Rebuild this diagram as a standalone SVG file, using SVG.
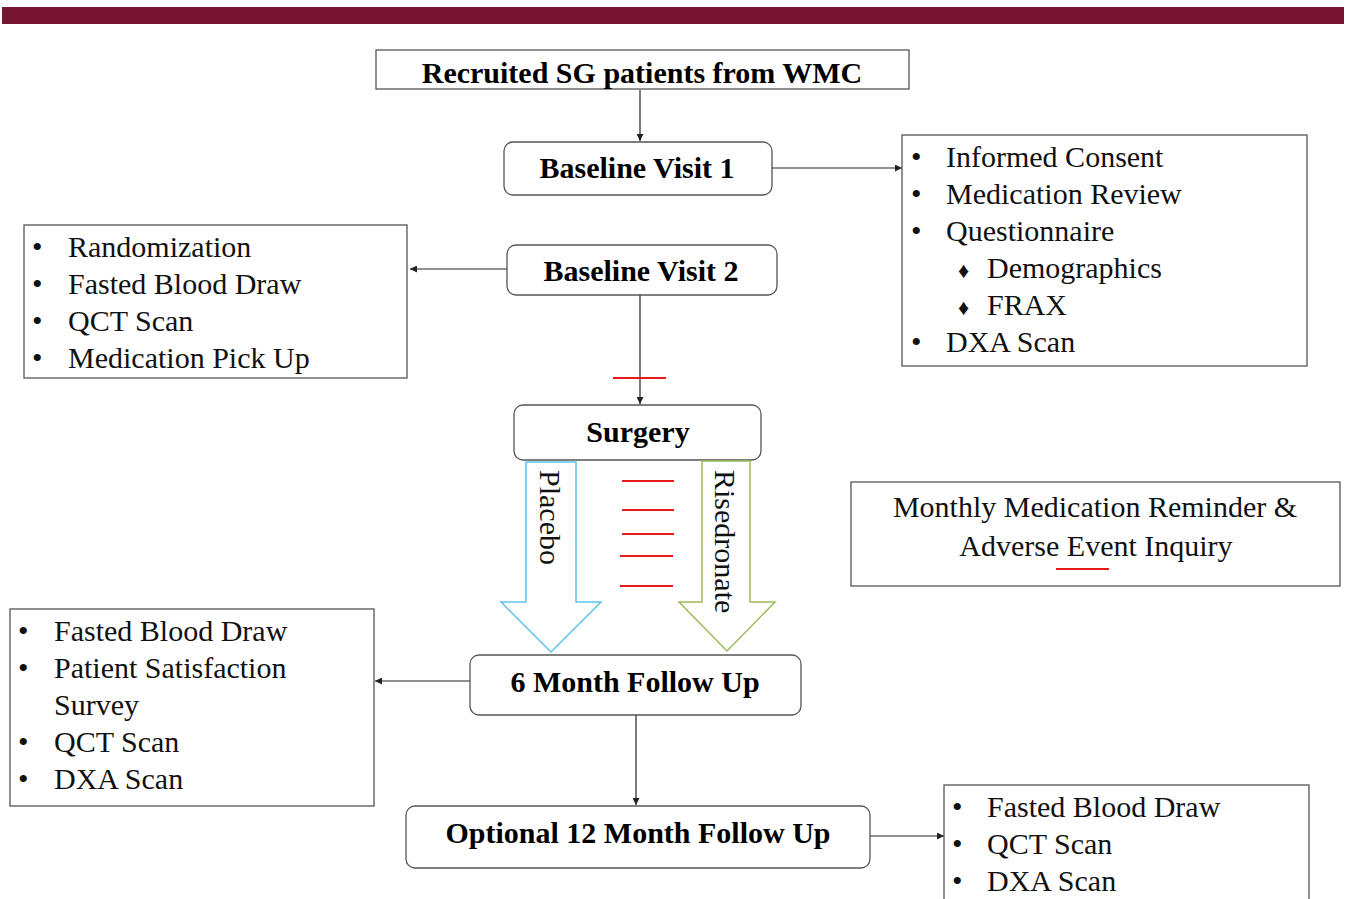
<svg xmlns="http://www.w3.org/2000/svg" width="1346" height="899" viewBox="0 0 1346 899">
<style>
.box{fill:#fff;stroke:#555;stroke-width:1.3}
.nt{font-family:"Liberation Serif","Times New Roman",serif;font-weight:bold;font-size:30px;fill:#000;text-anchor:middle}
.lt{font-family:"Liberation Serif","Times New Roman",serif;font-size:30px;fill:#111}
.con{stroke:#222;stroke-width:1.2;fill:none}
.red{stroke:#e8191b;stroke-width:2;fill:none}
</style>
<defs>
<marker id="ah" viewBox="0 0 10 10" refX="10" refY="5" markerWidth="7" markerHeight="7" markerUnits="userSpaceOnUse" orient="auto">
<path d="M0,0 L10,5 L0,10 z" fill="#222"/>
</marker>
</defs>
<rect x="2" y="7" width="1342" height="17" fill="#771433"/>

<g id="connectors">
<line class="con" x1="640" y1="90" x2="640" y2="141" marker-end="url(#ah)"/>
<line class="con" x1="772" y1="168" x2="902" y2="168" marker-end="url(#ah)"/>
<line class="con" x1="507" y1="269" x2="410" y2="269" marker-end="url(#ah)"/>
<line class="con" x1="640" y1="295" x2="640" y2="404" marker-end="url(#ah)"/>
<line class="con" x1="470" y1="681" x2="375" y2="681" marker-end="url(#ah)"/>
<line class="con" x1="636" y1="715" x2="636" y2="805" marker-end="url(#ah)"/>
<line class="con" x1="870" y1="836" x2="944" y2="836" marker-end="url(#ah)"/>
</g>

<g id="recruited">
<rect class="box" x="376" y="50" width="533" height="39"/>
<text class="nt" x="642" y="83">Recruited SG patients from WMC</text>
</g>

<g id="baseline1">
<rect class="box" x="504" y="142" width="268" height="53" rx="9"/>
<text class="nt" x="637" y="178">Baseline Visit 1</text>
</g>

<g id="bv1-list">
<rect class="box" x="902" y="135" width="405" height="231"/>
<g class="lt">
<text x="911" y="167">•</text><text x="946" y="167">Informed Consent</text>
<text x="911" y="204">•</text><text x="946" y="204">Medication Review</text>
<text x="911" y="241">•</text><text x="946" y="241">Questionnaire</text>
<text x="958" y="278" font-size="22">♦</text><text x="987" y="278">Demographics</text>
<text x="958" y="315" font-size="22">♦</text><text x="987" y="315">FRAX</text>
<text x="911" y="352">•</text><text x="946" y="352">DXA Scan</text>
</g>
</g>

<g id="baseline2">
<rect class="box" x="507" y="245" width="270" height="50" rx="9"/>
<text class="nt" x="641" y="281">Baseline Visit 2</text>
</g>

<g id="bv2-list">
<rect class="box" x="24" y="225" width="383" height="153"/>
<g class="lt">
<text x="32" y="257">•</text><text x="68" y="257">Randomization</text>
<text x="32" y="294">•</text><text x="68" y="294">Fasted Blood Draw</text>
<text x="32" y="331">•</text><text x="68" y="331">QCT Scan</text>
<text x="32" y="368">•</text><text x="68" y="368">Medication Pick Up</text>
</g>
</g>

<line class="red" x1="613" y1="378" x2="666" y2="378"/>

<g id="surgery">
<rect class="box" x="514" y="405" width="247" height="55" rx="9"/>
<text class="nt" x="638" y="442">Surgery</text>
</g>

<g id="placebo">
<path d="M526,462 L576,462 L576,602 L601,602 L551,652 L501,602 L526,602 Z" fill="#fff" stroke="#5ec4ef" stroke-width="1.5"/>
<text class="lt" transform="translate(540,470) rotate(90)">Placebo</text>
</g>

<g id="risedronate">
<path d="M702,461 L750,461 L750,602 L775,602 L727,651 L679,602 L702,602 Z" fill="#fff" stroke="#9bbb59" stroke-width="1.5"/>
<text class="lt" transform="translate(715,470) rotate(90)">Risedronate</text>
</g>

<g id="red-marks">
<line class="red" x1="622" y1="481" x2="674" y2="481"/>
<line class="red" x1="622" y1="510" x2="674" y2="510"/>
<line class="red" x1="622" y1="534" x2="674" y2="534"/>
<line class="red" x1="620" y1="556" x2="673" y2="556"/>
<line class="red" x1="620" y1="586" x2="673" y2="586"/>
</g>

<g id="monthly">
<rect class="box" x="851" y="482" width="489" height="104"/>
<text class="lt" x="1095" y="517" text-anchor="middle">Monthly Medication Reminder &amp;</text>
<text class="lt" x="1096" y="556" text-anchor="middle">Adverse Event Inquiry</text>
<line class="red" x1="1056" y1="569" x2="1109" y2="569"/>
</g>

<g id="month6">
<rect class="box" x="470" y="655" width="331" height="60" rx="9"/>
<text class="nt" x="635" y="692">6 Month Follow Up</text>
</g>

<g id="m6-list">
<rect class="box" x="10" y="609" width="364" height="197"/>
<g class="lt">
<text x="18" y="641">•</text><text x="54" y="641">Fasted Blood Draw</text>
<text x="18" y="678">•</text><text x="54" y="678">Patient Satisfaction</text>
<text x="54" y="715">Survey</text>
<text x="18" y="752">•</text><text x="54" y="752">QCT Scan</text>
<text x="18" y="789">•</text><text x="54" y="789">DXA Scan</text>
</g>
</g>

<g id="month12">
<rect class="box" x="406" y="806" width="464" height="62" rx="9"/>
<text class="nt" x="638" y="843">Optional 12 Month Follow Up</text>
</g>

<g id="m12-list">
<rect class="box" x="944" y="785" width="365" height="130"/>
<g class="lt">
<text x="952" y="817">•</text><text x="987" y="817">Fasted Blood Draw</text>
<text x="952" y="854">•</text><text x="987" y="854">QCT Scan</text>
<text x="952" y="891">•</text><text x="987" y="891">DXA Scan</text>
</g>
</g>
</svg>
